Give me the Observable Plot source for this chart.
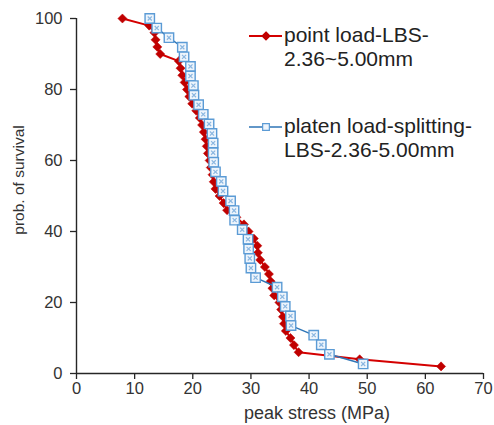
<!DOCTYPE html>
<html><head><meta charset="utf-8">
<script src="https://cdn.jsdelivr.net/npm/d3@7"></script>
<script src="https://cdn.jsdelivr.net/npm/@observablehq/plot@0.6"></script>
<style>
body{margin:0;background:#fff}
svg{font-family:"Liberation Sans",Arial,sans-serif}
</style>
</head><body><div id="chart"></div>
<script>
// point load-LBS-2.36~5.00mm
const pointStress = [7.9,12.5,13.4,13.6,13.9,14.4,17.6,17.9,18.2,18.6,19.0,19.4,19.9,20.6,21.2,21.6,21.9,22.2,22.4,22.6,22.9,23.1,23.4,23.6,23.9,24.6,25.3,25.9,27.5,28.8,29.6,30.5,31.1,31.2,31.6,32.4,33.1,33.4,33.7,34.0,34.9,35.2,35.5,35.7,36.0,36.8,37.4,38.2,48.7,62.7];
const pointSurvival = [100,98,96,94,92,90,88,86,84,82,80,78,76,74,72,70,68,66,64,62,60,58,56,54,52,50,48,46,44,42,40,38,36,34,32,30,28,26,24,22,20,18,16,14,12,10,8,6,4,2];
// platen load-splitting-LBS-2.36-5.00mm
const platenStress = [12.6,13.8,15.9,18.2,18.5,19.6,19.6,20.1,20.2,21.0,21.8,22.8,23.3,23.5,23.5,23.6,23.9,24.9,25.2,26.5,27.1,27.2,28.5,29.5,29.6,29.8,30.0,30.8,34.5,35.4,35.9,36.8,36.9,40.8,42.1,43.5,49.3];
const platenSurvival = [100,97.3,94.6,91.9,89.2,86.5,83.8,81.1,78.4,75.7,73.0,70.3,67.6,64.9,62.2,59.5,56.8,54.1,51.4,48.6,45.9,43.2,40.5,37.8,35.1,32.4,29.7,27.0,24.3,21.6,18.9,16.2,13.5,10.8,8.1,5.4,2.7];
const xTicks = [0,10,20,30,40,50,60,70];
const yTicks = [0,20,40,60,80,100];
const xLabel = "peak stress (MPa)";
const yLabel = "prob. of survival";
const pointLegend = ["point load-LBS-","2.36~5.00mm"];
const platenLegend = ["platen load-splitting-","LBS-2.36-5.00mm"];

const RED = "#c00000", RED_LINE = "#d40000", BLUE = "#2e75b6", BLUE_EDGE = "#5b9bd5";

const pointData = pointStress.map((x,i)=>({x, y: pointSurvival[i]}));
const platenData = platenStress.map((x,i)=>({x, y: platenSurvival[i]}));

const chart = Plot.plot({
  width:494, height:425,
  marginLeft:76, marginRight:11, marginTop:18, marginBottom:52,
  style:{fontFamily:"'Liberation Sans',Arial,sans-serif", fontSize:"16.5px", color:"#333", background:"#fff"},
  x:{domain:[0,70]},
  y:{domain:[0,100]},
  marks:[
    Plot.axisX({ticks:xTicks, tickSize:6, tickPadding:3, label:null, stroke:"#262626", strokeWidth:1.3}),
    Plot.axisY({ticks:yTicks, tickSize:6, tickPadding:8, label:null, stroke:"#262626", strokeWidth:1.3}),
    Plot.ruleY([0], {stroke:"#262626", strokeWidth:1.4}),
    Plot.ruleX([0], {stroke:"#262626", strokeWidth:1.4}),
    Plot.line(pointData, {x:"x", y:"y", stroke:RED_LINE, strokeWidth:2}),
    Plot.dot(pointData, {x:"x", y:"y", symbol:"diamond2", r:4.1, fill:RED, stroke:RED, strokeWidth:0.5}),
    Plot.line(platenData, {x:"x", y:"y", stroke:BLUE, strokeWidth:1.5}),
    Plot.dot(platenData, {x:"x", y:"y", symbol:"square", r:5.3, fill:"#eef5fc", stroke:BLUE_EDGE, strokeWidth:1.4}),
    Plot.dot(platenData, {x:"x", y:"y", symbol:"times", r:2, stroke:"#8ab6e0", strokeWidth:1.2})
  ]
});
document.getElementById("chart").appendChild(chart);

const svg = d3.select(chart);
// axis titles
svg.append("text").attr("x",317).attr("y",419).attr("text-anchor","middle")
  .attr("font-size",18).attr("fill","#333").text(xLabel);
svg.append("text").attr("transform","translate(24,180) rotate(-90)").attr("text-anchor","middle")
  .attr("font-size",15.5).attr("fill","#333").text(yLabel);

// legend
const lg = svg.append("g").attr("text-anchor","start");
function legendEntry(y, color, lineW, sym, symSize, fill, stroke, lines){
  lg.append("line").attr("x1",249).attr("x2",282).attr("y1",y).attr("y2",y)
    .attr("stroke",color).attr("stroke-width",lineW);
  lg.append("path").attr("d", d3.symbol(sym, symSize)()).attr("transform",`translate(266,${y})`)
    .attr("fill",fill).attr("stroke",stroke).attr("stroke-width",1.2);
  lines.forEach((t,i)=>{
    lg.append("text").attr("x",284).attr("y",y+5.5+i*24.5).attr("font-size",21)
      .attr("text-anchor","start").attr("fill","#222").text(t);
  });
}
legendEntry(36, RED_LINE, 2, d3.symbolDiamond2, 40, RED, RED, pointLegend);
legendEntry(127, BLUE, 1.5, d3.symbolSquare, 45, "#eef5fc", BLUE_EDGE, platenLegend);
</script>
</body></html>
